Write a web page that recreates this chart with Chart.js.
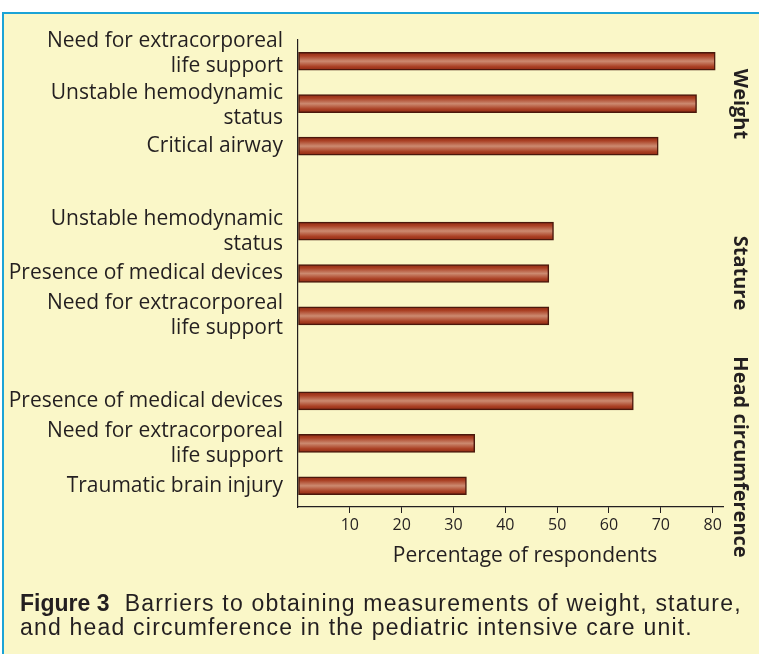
<!DOCTYPE html>
<html><head><meta charset="utf-8">
<script src="https://cdn.jsdelivr.net/npm/chart.js@4/dist/chart.umd.min.js"></script>
<style>
html,body{margin:0;padding:0;background:#fff;width:759px;height:654px;overflow:hidden}
#frame{position:absolute;left:2px;top:12px;width:757px;height:642px;background:#faf7c8;border-top:2px solid #1ba3d6;border-left:2px solid #1ba3d6;box-sizing:border-box}
#wrap{position:absolute;left:0;top:0;width:759px;height:654px}
#cap{position:absolute;left:20px;top:591px;font-family:"Liberation Sans",Arial,sans-serif;font-size:23px;line-height:24px;color:#231f20;white-space:nowrap;letter-spacing:1.2px}
#cap b{letter-spacing:0px}
</style></head><body>
<div id="frame"></div>
<div id="wrap"><canvas id="c" width="759" height="654"></canvas></div>
<div id="cap"><b>Figure 3</b>&nbsp; Barriers to obtaining measurements of weight, stature,<br>and head circumference in the pediatric intensive care unit.</div>
<script>
const categories = [
  ["Need for extracorporeal", "life support"],
  ["Unstable hemodynamic", "status"],
  "Critical airway",
  "",
  ["Unstable hemodynamic", "status"],
  "Presence of medical devices",
  ["Need for extracorporeal", "life support"],
  "",
  "Presence of medical devices",
  ["Need for extracorporeal", "life support"],
  "Traumatic brain injury"
];
const percentages = [80.5, 76.9, 69.5, null, 49.3, 48.4, 48.4, null, 64.7, 34.1, 32.5];
const groupNames = ["Weight", "Stature", "Head circumference"];
const xTickValues = [10, 20, 30, 40, 50, 60, 70, 80];
const axisTitle = "Percentage of respondents";

const INK = '#231f20';
// small vertical nudges of the category labels (layout only)
const labelNudge = { 0: -8, 1: 2 };

const nudgeLabels = {
  id: 'nudgeLabels',
  beforeDraw(chart) {
    const s = chart.scales.y;
    const items = s.getLabelItems(chart.chartArea);
    if (items._nudged) return;
    items.forEach((it, i) => {
      if (labelNudge[i]) it.options.translation[1] += labelNudge[i];
    });
    items._nudged = true;
  }
};

const sideLabels = {
  id: 'sideLabels',
  afterDraw(chart) {
    const ctx = chart.ctx;
    ctx.save();
    ctx.fillStyle = INK;
    ctx.textAlign = 'center';
    ctx.textBaseline = 'middle';
    ctx.font = '21px "Open Sans"';
    ctx.fillText(axisTitle, 525, 556);
    ctx.font = 'bold 20px "Open Sans"';
    const pos = [104, 273, 457];
    groupNames.forEach((g, i) => {
      ctx.save();
      ctx.translate(740, pos[i]);
      ctx.rotate(Math.PI / 2);
      ctx.fillText(g, 0, 0);
      ctx.restore();
    });
    ctx.restore();
  }
};

new Chart(document.getElementById('c'), {
  type: 'bar',
  data: {
    labels: categories,
    datasets: [{
      data: percentages,
      barThickness: 18,
      borderWidth: 1.5,
      borderColor: '#4a180c',
      borderSkipped: false,
      backgroundColor(c) {
        const chart = c.chart;
        const ys = chart.scales && chart.scales.y;
        if (c.type !== 'data' || !ys) return '#b04a30';
        const mid = ys.getPixelForValue(c.dataIndex);
        if (!isFinite(mid)) return '#b04a30';
        const g = chart.ctx.createLinearGradient(0, mid - 9, 0, mid + 9);
        g.addColorStop(0, '#8e2812');
        g.addColorStop(0.2, '#aa4024');
        g.addColorStop(0.5, '#cc8a70');
        g.addColorStop(0.8, '#aa4024');
        g.addColorStop(1, '#8e2812');
        return g;
      }
    }]
  },
  options: {
    indexAxis: 'y',
    responsive: false,
    animation: false,
    devicePixelRatio: 1,
    layout: { padding: { top: 40, right: 36, bottom: 87, left: 0 } },
    plugins: { legend: { display: false }, tooltip: { enabled: false } },
    scales: {
      x: {
        min: 0, max: 82,
        afterBuildTicks(s) { s.ticks = [0].concat(xTickValues).map(v => ({ value: v })); },
        ticks: {
          includeBounds: false,
          callback: v => (v === 0 ? '' : v),
          font: { family: 'Open Sans', size: 16 },
          color: INK, padding: 3, maxRotation: 0, autoSkip: false
        },
        grid: {
          drawOnChartArea: false, drawTicks: true, tickLength: 6,
          tickColor: c => (c.tick && c.tick.value === 0 ? 'rgba(0,0,0,0)' : INK),
          tickWidth: 1
        },
        border: { display: true, color: INK, width: 1.2 },
        afterFit(s) { s.height = 60; }
      },
      y: {
        ticks: {
          font: { family: 'Open Sans', size: 21, lineHeight: 1.19 },
          color: INK, padding: 15, autoSkip: false
        },
        grid: { display: false, drawTicks: false },
        border: { display: true, color: INK, width: 1.2 },
        afterFit(s) { s.width = 298; }
      }
    }
  },
  plugins: [nudgeLabels, sideLabels]
});
</script>
</body></html>
